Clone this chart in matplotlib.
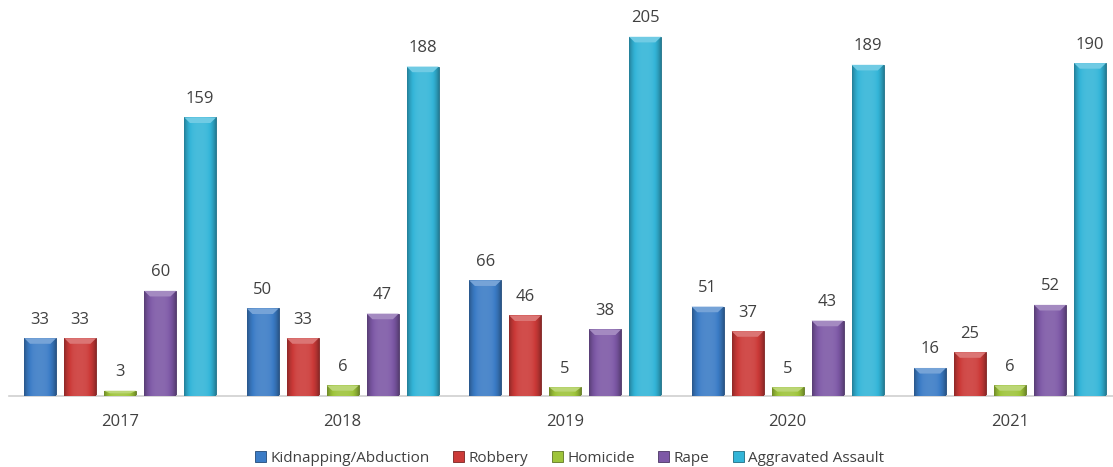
import numpy as np
import matplotlib.pyplot as plt
from matplotlib.colors import to_rgb
from matplotlib.patches import Polygon

years = ['2017', '2018', '2019', '2020', '2021']
series = ['Kidnapping/Abduction', 'Robbery', 'Homicide', 'Rape', 'Aggravated Assault']
kidnapping = [33, 50, 66, 51, 16]
robbery = [33, 33, 46, 37, 25]
homicide = [3, 6, 5, 5, 6]
rape = [60, 47, 38, 43, 52]
assault = [159, 188, 205, 189, 190]
colors = ['#3b7cc6', '#cc3a38', '#9ec43a', '#7d58a6', '#33b5d8']

values = [kidnapping, robbery, homicide, rape, assault]

plt.rcParams['font.family'] = ['Open Sans', 'DejaVu Sans']

fig = plt.figure(figsize=(11.13, 4.67), dpi=100)
ax = fig.add_axes([9 / 1113, 1 - 396 / 467, 1 - 9 / 1113, 396 / 467])

pitch = 40 / 222.5
width = 32 / 222.5
x = np.arange(len(years))


def shade(c, f):
    r = np.array(to_rgb(c))
    if f >= 0:
        return r + (1 - r) * f
    return r * (1 + f)


for i, (vals, c) in enumerate(zip(values, colors)):
    pos = x + (i - 2) * pitch
    bars = ax.bar(pos, vals, width, color=c, edgecolor=shade(c, -0.4),
                  linewidth=0.6, label=series[i], zorder=2)
    # horizontal gradient: darker edges, lighter centre
    t = np.linspace(-1, 1, 64)
    prof = 0.1 - 0.4 * np.abs(t) ** 3
    grad = np.array([shade(c, f) for f in prof])[None, :, :]
    for b, v in zip(bars, vals):
        x0 = b.get_x()
        im = ax.imshow(grad, extent=(x0, x0 + width, 0, v), aspect='auto',
                       zorder=3, interpolation='bilinear')
        im.set_clip_path(b)
        # bevel on top
        bev = min(3.2, v * 0.5)
        inset = width * 0.18
        ax.add_patch(Polygon([(x0, v), (x0 + width, v),
                              (x0 + width - inset, v - bev), (x0 + inset, v - bev)],
                             closed=True, color=shade(c, 0.3), zorder=4, lw=0))
        ax.text(b.get_x() + width / 2, v + 6, str(v), ha='center', va='bottom',
                fontsize=12, color='#404040')

ax.set_xlim(-0.5, (1113 - 120) / 222.5)
ax.set_ylim(0, 226)
ax.set_yticks([])
ax.set_xticks(x)
ax.set_xticklabels(years, fontsize=12, color='#404040')
ax.tick_params(axis='x', length=0, pad=13)
for s in ['top', 'right', 'left']:
    ax.spines[s].set_visible(False)
ax.spines['bottom'].set_color('#d0d0d0')
ax.spines['bottom'].set_linewidth(1.2)

leg = fig.legend(loc='center', bbox_to_anchor=(0.512, 1 - 458 / 467), ncol=5,
                 frameon=False, fontsize=11, handlelength=0.7, handleheight=0.7,
                 handletextpad=0.3, columnspacing=1.55)
for t in leg.get_texts():
    t.set_color('#404040')

fig.savefig('out.png', dpi=100)
